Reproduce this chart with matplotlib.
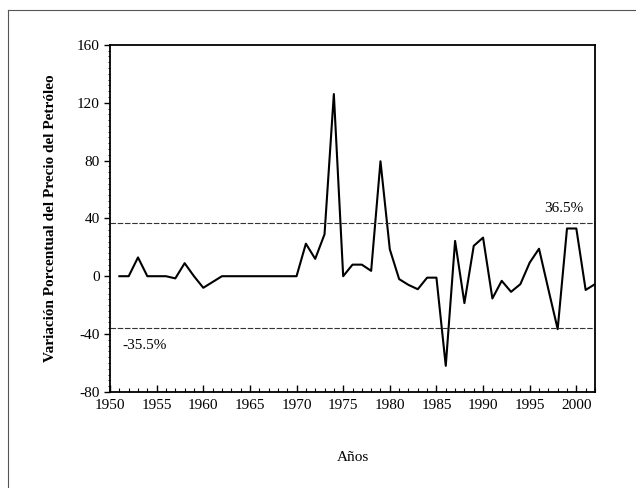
import numpy as np
import matplotlib
matplotlib.use("Agg")
import matplotlib.pyplot as plt
from matplotlib.lines import Line2D
from matplotlib.ticker import MultipleLocator

# data
years = list(range(1951, 2003))
variacion = [0, 0, 13, 0, 0, 0, -1.5, 9, 0, -8, -4, 0,
             0, 0, 0, 0, 0, 0, 0, 0,
             22.5, 12, 29, 126, 0, 8, 8, 3.7, 79.5, 18.6,
             -2, -6, -9, -1, -1, -62, 24.4, -18.6, 21, 26.7,
             -15.4, -3.2, -10.8, -5.5, 9.4, 19, -9, -36.6, 33, 33,
             -9.5, -5.5]
limite_sup = 36.5
limite_inf = -35.5

plt.rcParams['font.family'] = ['Liberation Serif', 'DejaVu Serif']
plt.rcParams['axes.unicode_minus'] = False

fig = plt.figure(figsize=(6.36, 4.88), dpi=100)
ax = fig.add_axes([0.173, 0.197, 0.7625, 0.711])

ax.plot(years, variacion, color='black', lw=1.5)
ax.axhline(limite_sup, color='#333333', lw=0.8, ls=(0, (5, 1.5)))
ax.axhline(limite_inf, color='#333333', lw=0.8, ls=(0, (5, 1.5)))
ax.text(2000.8, limite_sup + 6, '36.5%', ha='right', va='bottom', fontsize=11)
ax.text(1951.3, limite_inf - 8, '-35.5%', ha='left', va='top', fontsize=11)

ax.set_xlim(1950, 2002)
ax.set_ylim(-80, 160)
ax.xaxis.set_major_locator(MultipleLocator(5))
ax.xaxis.set_minor_locator(MultipleLocator(1))
ax.yaxis.set_major_locator(MultipleLocator(40))
ax.yaxis.set_minor_locator(MultipleLocator(4))
ax.tick_params(axis='x', which='major', direction='in', length=5, width=1, labelsize=11, pad=5)
ax.tick_params(axis='x', which='minor', direction='in', length=3, width=0.8)
ax.tick_params(axis='y', which='major', direction='out', length=4, width=1, labelsize=11)
ax.tick_params(axis='y', which='minor', direction='out', length=1.5, width=0.6)
for s in ax.spines.values():
    s.set_linewidth(1.3)

ax.set_xlabel('Años', fontsize=11, labelpad=28)
ax.set_ylabel('Variación Porcentual del Precio del Petróleo', fontsize=11,
              fontweight='bold', labelpad=14)

# frame of the scanned page
fig.add_artist(Line2D([0.013, 0.013], [0.0, 0.98], color='#555555', lw=0.8))
fig.add_artist(Line2D([0.013, 1.0], [0.98, 0.98], color='#555555', lw=0.8))

fig.savefig('out.png', dpi=100)
